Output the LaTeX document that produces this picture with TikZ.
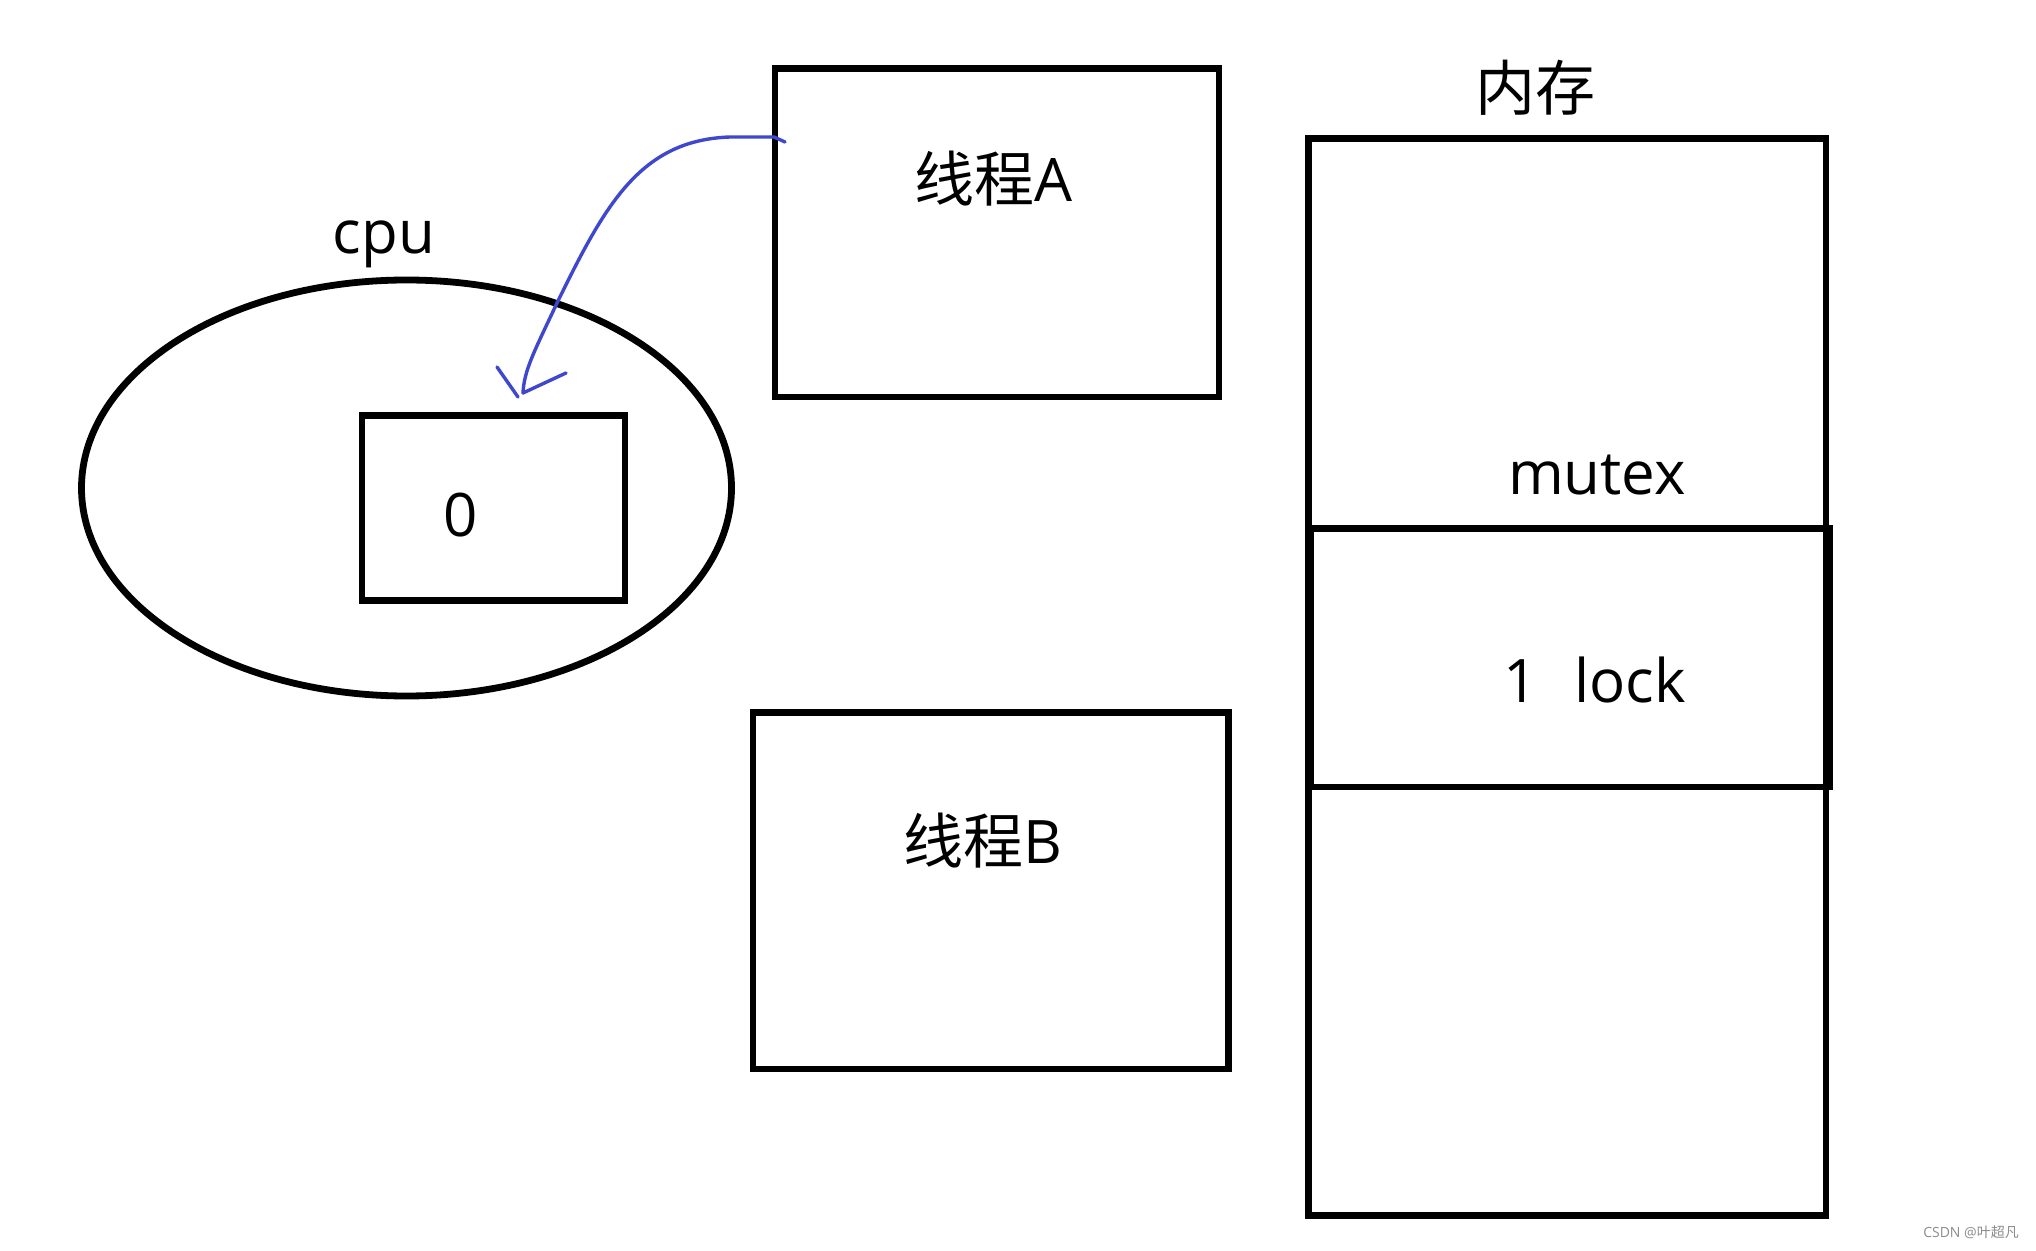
\documentclass[tikz,border=0pt]{standalone}
\usepackage{fontspec}
\usetikzlibrary{shapes.geometric}
\setmainfont{Open Sans}
\newfontfamily\cjk{Noto Sans CJK SC}
\definecolor{penblue}{RGB}{63,72,204}
\begin{document}
\begin{tikzpicture}[x=0.5pt,y=-0.5pt,
  box/.style={draw=black,line width=3.4pt,rectangle,inner sep=0pt},
  lbl/.style={inner sep=0pt,font=\fontsize{30}{36}\selectfont},
  pen/.style={draw=penblue,line width=1.7pt,line cap=round,line join=round}]
\useasboundingbox[fill=white] (0,0) rectangle (2036,1251);
% cpu
\node[box,ellipse,minimum width=325pt,minimum height=208pt] (cpu) at (406.5,488) {};
\node[box,minimum width=131.5pt,minimum height=92.5pt] (reg) at (493.5,508.3) {};
\node[lbl] (cpulbl) at (384,244) {cpu};
\node[lbl] (regval) at (461,515.5) {0};
% threads
\node[box,minimum width=222pt,minimum height=164.3pt] (ta) at (997,232.7) {};
\node[lbl] (talbl) at (993,179) {{\cjk 线程}A};
\node[box,minimum width=237.9pt,minimum height=178.2pt] (tb) at (990.9,890.8) {};
\node[lbl] (tblbl) at (983,841) {{\cjk 线程}B};
% memory
\node[box,minimum width=258.7pt,minimum height=538.5pt] (mem) at (1567.3,677.2) {};
\node[box,minimum width=259.7pt,minimum height=129.25pt] (memlock) at (1569.8,657.75) {};
\node[lbl] (memlbl) at (1535,88) {\cjk 内存};
\node[lbl] (mutexlbl) at (1597,475) {mutex};
\node[lbl] (locklbl) at (1594.6,680) {1\hspace{0.6em}lock};
% watermark
\node[inner sep=0pt,text=black!45,font=\fontsize{7}{8}\selectfont] (wm) at (1971,1232) {CSDN @{\cjk 叶超凡}};
% blue arrow
\coordinate (s) at (785,142);
\coordinate (t) at (523,393);
\draw[pen] (s) -- (774,137) -- (730,137) .. controls (640,140) and (605,205) .. (557,303) .. controls (535,350) and (524,370) .. (t);
\draw[pen] (497,367) -- (518,397);
\draw[pen] (t) -- (566,373);
\end{tikzpicture}
\end{document}
